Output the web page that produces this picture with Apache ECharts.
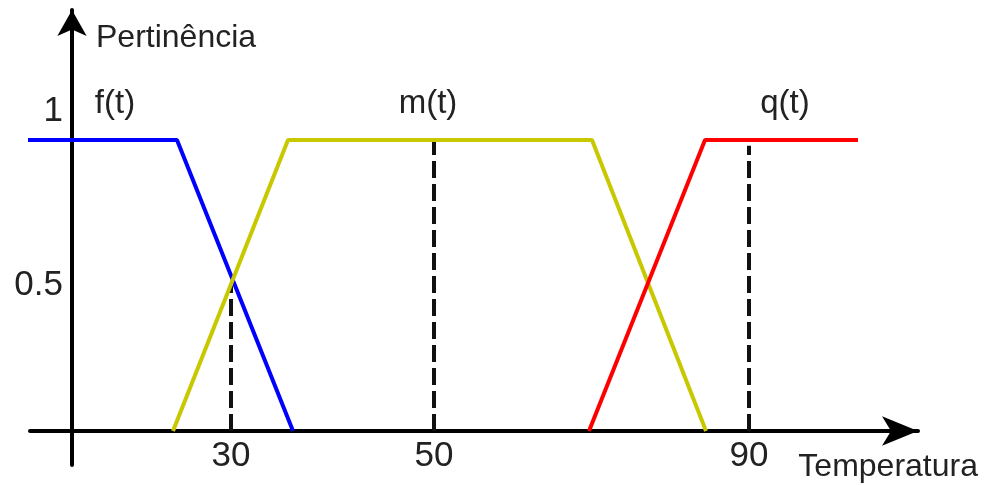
<!DOCTYPE html>
<html>
<head>
<meta charset="utf-8">
<script src="https://cdn.jsdelivr.net/npm/echarts@6/dist/echarts.min.js"></script>
<style>
  html, body { margin: 0; padding: 0; background: #fff; }
  #chart { width: 987px; height: 485px; }
</style>
</head>
<body>
<div id="chart"></div>
<script>
// x is a schematic position along the temperature axis (not to scale)
const fPoints = [[-4.9, 1], [10.5, 1], [22.1, 0]];
const mPoints = [[10.1, 0], [21.6, 1], [52.0, 1], [63.4, 0]];
const qPoints = [[51.7, 0], [63.3, 1], [78.6, 1]];
const guide30 = [[15.9, 0], [15.9, 0.5]];
const guide50 = [[36.2, 0], [36.2, 1]];
const guide90 = [[67.7, 0], [67.7, 0.98]];

const xTickPos = [15.9, 36.2, 67.7];
const xTickText = ['30', '50', '90'];
const yTickPos = [0.5, 1];
const yTickText = ['0.5', '1'];

const curveNames = ['f(t)', 'm(t)', 'q(t)'];
const curveNamePos = [[4.3, 1], [35.6, 1], [71.3, 1]];

const font = 'Liberation Sans, Arial, sans-serif';
const chart = echarts.init(document.getElementById('chart'));

function curve(name, data, color, labelAt) {
    return {
        name: name,
        type: 'line',
        data: data,
        symbol: 'none',
        clip: false,
        lineStyle: { color: color, width: 4 },
        z: 3,
        markPoint: {
            symbol: 'circle',
            symbolSize: 1,
            itemStyle: { color: 'rgba(0,0,0,0)' },
            data: [{ coord: labelAt }],
            label: {
                show: true,
                position: 'inside',
                formatter: name,
                color: '#222',
                fontSize: 33,
                fontFamily: font,
                offset: [0, -36]
            }
        }
    };
}

function guide(data) {
    return {
        type: 'line',
        data: data,
        symbol: 'none',
        lineStyle: { color: '#111', width: 4, type: [17, 6] },
        z: 2
    };
}

chart.setOption({
    animation: false,
    grid: { left: 30, right: 69, top: 10, bottom: 20, containLabel: false, outerBoundsMode: 'none' },
    xAxis: {
        type: 'value',
        position: 'bottom',
        offset: -34,
        min: -4.2,
        max: 84.6,
        name: 'Temperatura',
        nameLocation: 'end',
        nameGap: 60,
        nameTextStyle: {
            color: '#222', fontSize: 32, fontFamily: font,
            align: 'right', verticalAlign: 'top', padding: [20, 0, 0, 0]
        },
        splitLine: { show: false },
        axisTick: { show: false },
        axisLine: {
            onZero: false,
            symbol: ['none', 'arrow'],
            symbolSize: [22, 36],
            lineStyle: { color: '#000', width: 4 }
        },
        axisLabel: {
            customValues: xTickPos,
            formatter: v => xTickText[xTickPos.indexOf(v)],
            color: '#222', fontSize: 35, fontFamily: font, margin: 8
        }
    },
    yAxis: {
        type: 'value',
        position: 'left',
        offset: -42,
        min: -0.117,
        max: 1.447,
        name: 'Pertinência',
        nameLocation: 'end',
        nameGap: -28,
        nameTextStyle: {
            color: '#222', fontSize: 32, fontFamily: font,
            align: 'left', verticalAlign: 'middle', padding: [0, 0, 0, 24]
        },
        splitLine: { show: false },
        axisTick: { show: false },
        axisLine: {
            onZero: false,
            symbol: ['none', 'arrow'],
            symbolSize: [22, 26],
            lineStyle: { color: '#000', width: 4 }
        },
        axisLabel: {
            customValues: yTickPos,
            formatter: v => {
                const t = yTickText[yTickPos.indexOf(v)];
                return v === 1 ? '{up|' + t + '}' : t;
            },
            rich: { up: { fontSize: 35, fontFamily: font, color: '#222', padding: [0, 0, 58, 0] } },
            color: '#222', fontSize: 35, fontFamily: font, margin: 9
        }
    },
    series: [
        guide(guide30),
        guide(guide50),
        guide(guide90),
        curve(curveNames[0], fPoints, '#0000ff', curveNamePos[0]),
        curve(curveNames[1], mPoints, '#c8c800', curveNamePos[1]),
        curve(curveNames[2], qPoints, '#ff0000', curveNamePos[2])
    ]
});
</script>
</body>
</html>
